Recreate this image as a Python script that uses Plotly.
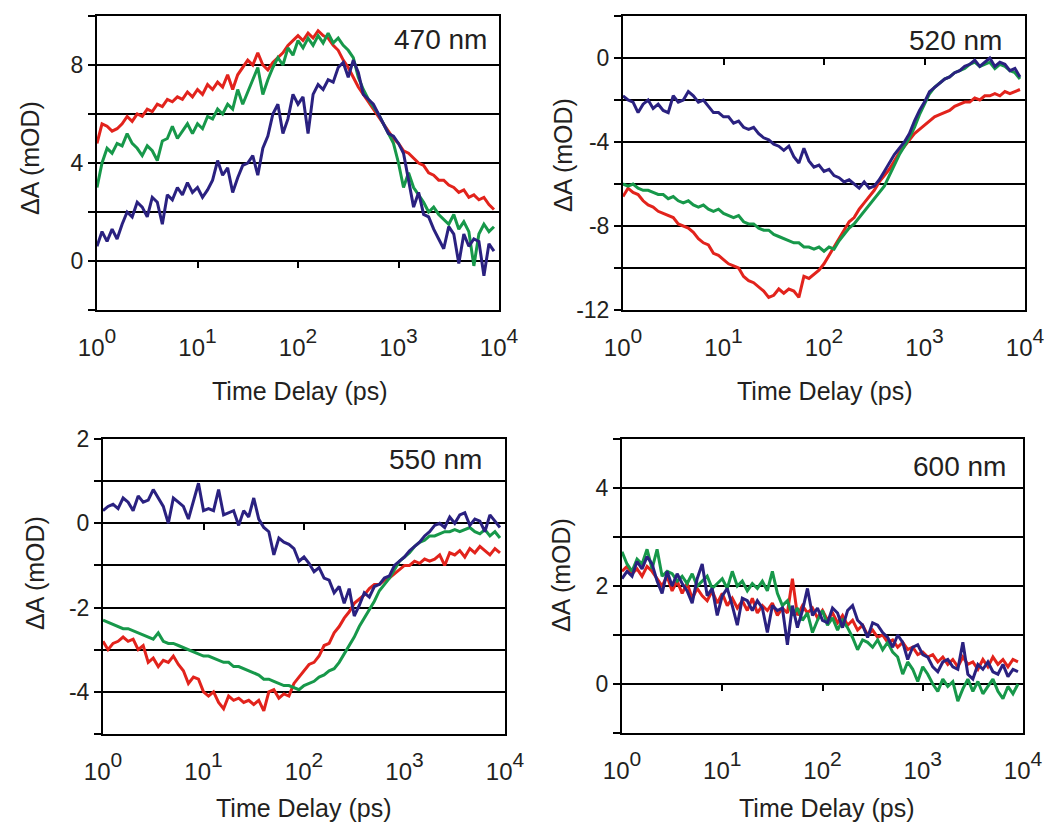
import plotly.graph_objects as go

# Pump-probe time delays (ps), shared by every kinetic trace
times = [1.0, 1.122, 1.259, 1.413, 1.585, 1.778, 1.995, 2.239, 2.512, 2.818,
         3.162, 3.548, 3.981, 4.467, 5.012, 5.623, 6.310, 7.079, 7.943, 8.913,
         10.0, 11.22, 12.59, 14.13, 15.85, 17.78, 19.95, 22.39, 25.12, 28.18,
         31.62, 35.48, 39.81, 44.67, 50.12, 56.23, 63.10, 70.79, 79.43, 89.13,
         100.0, 112.2, 125.9, 141.3, 158.5, 177.8, 199.5, 223.9, 251.2, 281.8,
         316.2, 354.8, 398.1, 446.7, 501.2, 562.3, 631.0, 707.9, 794.3, 891.3,
         1000.0, 1122, 1259, 1413, 1585, 1778, 1995, 2239, 2512, 2818,
         3162, 3548, 3981, 4467, 5012, 5623, 6310, 7079, 7943, 8913]

# 470 nm
red_470 = [4.8, 5.6, 5.5, 5.3, 5.4, 5.6, 5.9, 5.7, 6.0, 5.9,
           6.2, 6.1, 6.4, 6.3, 6.6, 6.5, 6.7, 6.6, 6.9, 6.7,
           7.0, 6.8, 7.2, 7.0, 7.3, 7.1, 7.6, 7.0, 7.6, 7.9,
           8.2, 8.0, 8.5, 8.0, 7.8, 8.1, 8.3, 8.5, 8.8, 9.0,
           9.2, 9.0, 9.3, 9.1, 9.4, 9.2, 9.1, 8.8, 8.6, 8.2,
           7.9, 7.5, 7.1, 6.8, 6.5, 6.2, 5.9, 5.6, 5.3, 5.0,
           4.8, 4.5, 4.4, 4.2, 4.0, 3.9, 3.6, 3.5, 3.3, 3.3,
           3.1, 3.0, 2.8, 2.9, 2.6, 2.7, 2.5, 2.6, 2.3, 2.1]
green_470 = [3.0, 4.0, 4.6, 4.4, 4.8, 4.7, 5.2, 4.8, 4.6, 4.3,
             4.7, 4.5, 4.1, 4.9, 5.0, 5.5, 5.0, 5.3, 5.6, 5.2,
             5.6, 5.4, 5.9, 5.8, 6.2, 6.0, 6.4, 6.2, 7.0, 6.4,
             6.9, 7.4, 7.9, 6.8, 7.4, 7.9, 8.3, 8.0, 8.7, 8.4,
             9.0, 8.7, 9.1, 8.8, 9.2, 8.9, 9.3, 8.9, 9.1, 8.8,
             8.6, 8.3, 7.5, 7.0, 6.6, 6.3, 6.0, 5.6, 5.2, 4.8,
             4.0, 3.0, 3.6, 3.0, 2.7, 2.4, 2.0, 2.2, 1.9, 1.7,
             1.5, 1.9, 1.3, 1.6, 1.2, -0.2, 1.1, 1.5, 1.2, 1.4]
blue_470 = [0.6, 1.2, 0.8, 1.3, 0.9, 1.5, 2.0, 1.8, 2.4, 2.2,
            1.8, 2.6, 2.4, 1.5, 2.7, 2.5, 3.0, 2.7, 3.2, 2.8,
            3.0, 2.6, 2.9, 3.3, 4.1, 3.5, 3.8, 2.8, 3.4, 3.9,
            4.0, 4.3, 3.5, 4.6, 5.1, 6.0, 6.4, 5.2, 5.8, 6.8,
            6.4, 6.7, 5.2, 6.8, 7.2, 7.0, 7.4, 7.3, 7.9, 8.1,
            7.5, 8.2, 7.7, 6.8, 6.6, 6.4, 6.0, 5.6, 5.2, 5.1,
            4.8, 4.4, 3.3, 2.2, 2.8, 1.9, 1.8, 1.3, 0.9, 0.5,
            1.4, 1.1, -0.1, 1.1, 0.6, 0.9, 0.8, -0.6, 0.7, 0.4]

# 520 nm
red_520 = [-6.6, -6.2, -6.4, -6.5, -6.8, -7.0, -7.1, -7.3, -7.4, -7.5,
           -7.6, -7.9, -8.0, -8.1, -8.3, -8.6, -8.8, -8.9, -9.3, -9.4,
           -9.6, -9.8, -9.9, -10.0, -10.4, -10.6, -10.7, -10.9, -11.1, -11.4,
           -11.3, -11.0, -11.2, -11.0, -11.1, -11.4, -10.4, -10.5, -10.3, -10.1,
           -9.8, -9.4, -9.0, -8.6, -8.2, -7.8, -7.6, -7.2, -6.9, -6.6,
           -6.3, -5.9, -5.6, -5.3, -4.9, -4.5, -4.2, -3.9, -3.6, -3.4,
           -3.2, -3.0, -2.8, -2.7, -2.6, -2.5, -2.3, -2.2, -2.1, -2.1,
           -1.9, -2.0, -1.8, -1.8, -1.7, -1.8, -1.6, -1.7, -1.6, -1.5]
green_520 = [-6.0, -6.1, -6.0, -6.2, -6.3, -6.3, -6.4, -6.5, -6.5, -6.7,
             -6.6, -6.8, -6.9, -6.8, -7.0, -7.1, -7.0, -7.2, -7.3, -7.2,
             -7.4, -7.5, -7.6, -7.5, -7.8, -7.9, -7.9, -8.1, -8.2, -8.2,
             -8.4, -8.5, -8.6, -8.7, -8.8, -8.8, -9.0, -9.0, -9.1, -9.0,
             -9.2, -9.0, -9.1, -8.7, -8.4, -8.1, -7.9, -7.6, -7.3, -7.0,
             -6.7, -6.4, -6.1, -5.6, -5.1, -4.6, -4.2, -3.8, -3.3, -2.7,
             -2.2, -1.7, -1.4, -1.2, -1.0, -0.9, -0.7, -0.6, -0.5, -0.3,
             -0.2, -0.4, -0.3, -0.2, -0.5, -0.3, -0.4, -0.6, -0.7, -1.0]
blue_520 = [-1.8, -2.0, -2.1, -2.6, -2.2, -2.0, -2.4, -2.2, -2.5, -2.6,
            -1.8, -2.1, -2.0, -1.6, -1.8, -2.1, -2.0, -2.3, -2.6, -2.6,
            -2.8, -2.8, -3.1, -3.0, -3.3, -3.4, -3.3, -3.6, -3.8, -3.9,
            -4.1, -4.2, -4.4, -4.2, -4.7, -5.0, -4.3, -4.9, -5.2, -5.1,
            -5.4, -5.3, -5.6, -5.7, -5.9, -5.8, -6.0, -6.2, -5.9, -6.2,
            -6.1, -5.8, -5.4, -5.0, -4.6, -4.3, -4.0, -3.6, -3.0, -2.5,
            -2.1, -1.6, -1.4, -1.2, -1.0, -0.9, -0.7, -0.6, -0.4, -0.3,
            -0.1, -0.4, -0.2, 0.0, -0.4, -0.2, -0.3, -0.6, -0.5, -0.9]

# 550 nm
red_550 = [-2.8, -3.0, -2.85, -2.8, -2.7, -2.8, -2.75, -3.0, -2.9, -3.3,
           -3.2, -3.4, -3.25, -3.3, -3.15, -3.35, -3.5, -3.8, -3.65, -3.7,
           -4.0, -4.1, -4.0, -4.25, -4.4, -4.1, -4.2, -4.15, -4.25, -4.2,
           -4.3, -4.2, -4.45, -4.0, -3.95, -4.15, -4.05, -4.1, -3.8, -3.65,
           -3.5, -3.35, -3.3, -3.15, -2.9, -2.85, -2.6, -2.45, -2.25, -2.1,
           -1.9, -1.8, -1.7, -1.55, -1.45, -1.45, -1.35, -1.3, -1.2, -1.1,
           -1.0, -1.0, -0.9, -0.95, -0.85, -0.9, -0.85, -0.75, -1.0, -0.7,
           -0.75, -0.65, -0.8, -0.6, -0.7, -0.55, -0.65, -0.75, -0.6, -0.7]
green_550 = [-2.3, -2.35, -2.4, -2.45, -2.5, -2.5, -2.55, -2.6, -2.65, -2.7,
             -2.75, -2.6, -2.8, -2.85, -2.85, -2.9, -2.95, -3.0, -3.05, -3.1,
             -3.15, -3.15, -3.2, -3.25, -3.3, -3.3, -3.4, -3.4, -3.45, -3.5,
             -3.55, -3.6, -3.7, -3.7, -3.75, -3.8, -3.85, -3.85, -3.9, -3.95,
             -3.85, -3.8, -3.75, -3.65, -3.6, -3.5, -3.45, -3.3, -3.1, -2.9,
             -2.7, -2.45, -2.25, -2.05, -1.85, -1.6, -1.45, -1.3, -1.1, -0.9,
             -0.8, -0.7, -0.55, -0.45, -0.4, -0.3, -0.3, -0.25, -0.2, -0.2,
             -0.15, -0.2, -0.15, -0.1, -0.2, -0.25, -0.15, -0.3, -0.2, -0.35]
blue_550 = [0.3, 0.4, 0.45, 0.35, 0.6, 0.5, 0.3, 0.65, 0.5, 0.55,
            0.8, 0.6, 0.4, 0.0, 0.6, 0.5, 0.4, 0.1, 0.5, 0.95,
            0.3, 0.35, 0.3, 0.8, 0.2, 0.25, 0.3, -0.05, 0.3, 0.15,
            0.6, 0.1, -0.1, -0.2, -0.75, -0.35, -0.45, -0.5, -0.6, -0.9,
            -0.8, -0.95, -1.15, -1.05, -1.3, -1.35, -1.65, -1.5, -1.9, -1.55,
            -2.2, -1.95, -1.65, -1.75, -1.5, -1.45, -1.3, -1.25, -1.0, -0.9,
            -0.8, -0.65, -0.55, -0.45, -0.3, -0.2, -0.05, 0.0, -0.1, 0.15,
            0.0, 0.2, 0.25, -0.05, 0.1, 0.05, -0.2, 0.2, 0.05, -0.1]

# 600 nm
red_600 = [2.3, 2.4, 2.25, 2.35, 2.2, 2.4, 2.3, 2.15, 2.0, 2.2,
           1.9, 2.1, 1.85, 2.05, 1.75, 1.95, 1.8, 1.7, 1.9, 1.65,
           1.85, 1.6, 1.75, 1.55, 1.7, 1.5, 1.75, 1.45, 1.6, 1.5,
           1.65, 1.4, 1.55, 1.45, 2.15, 1.4, 1.6, 1.45, 1.55, 1.35,
           1.5, 1.3, 1.45, 1.25, 1.4, 1.2, 1.3, 1.1, 1.2, 1.0,
           1.1, 0.95, 1.0, 0.85, 0.9, 0.75, 0.85, 0.7, 0.75, 0.6,
           0.65, 0.55, 0.6, 0.45, 0.55, 0.4, 0.5, 0.35, 0.55, 0.4,
           0.45, 0.3, 0.5, 0.35, 0.55, 0.4, 0.5, 0.35, 0.5, 0.45]
green_600 = [2.7, 2.45, 2.3, 2.55, 2.45, 2.75, 2.35, 2.75, 2.2, 2.3,
             2.25, 2.1, 2.2, 2.05, 2.25, 2.0, 2.1, 2.2, 1.95, 2.05,
             2.15, 1.95, 2.3, 2.0, 2.1, 1.9, 2.05, 1.95, 2.1, 1.9,
             2.3, 1.85, 1.6, 1.7, 1.4, 1.55, 1.3, 1.45, 1.05, 1.3,
             1.5, 1.2, 1.35, 1.1, 1.3, 1.15, 0.95, 0.7, 0.9, 0.85,
             0.75, 0.9, 0.7, 0.85, 0.65, 0.55, 0.2, 0.45, 0.3, 0.05,
             0.35, 0.2, 0.0, -0.15, 0.1, -0.05, 0.05, -0.35, -0.1, 0.1,
             -0.15, 0.05, -0.2, -0.05, 0.1, -0.15, -0.3, -0.05, -0.2, 0.0]
blue_600 = [2.15, 2.3, 2.2, 2.5, 2.35, 2.6, 2.45, 2.1, 1.85, 2.3,
            2.0, 2.25, 2.05, 1.9, 1.65, 2.15, 2.45, 1.8, 1.95, 1.4,
            1.8, 1.95, 1.6, 1.2, 1.75, 1.7, 1.5, 1.7, 1.55, 1.05,
            1.6, 1.5, 1.55, 0.8, 1.6, 1.15, 1.5, 1.95, 1.4, 1.55,
            1.3, 1.25, 1.55, 1.45, 1.15, 1.5, 1.6, 1.3, 1.2, 0.95,
            1.25, 1.2, 1.05, 0.95, 0.75, 1.0, 0.85, 0.5, 0.75, 0.8,
            0.6, 0.55, 0.35, 0.25, 0.45, 0.5, 0.35, 0.3, 0.85, 0.2,
            0.1, 0.4, 0.3, 0.45, 0.25, 0.2, 0.4, 0.15, 0.3, 0.25]

x_tick_vals = [1, 10, 100, 1000, 10000]
x_tick_exps = ["0", "1", "2", "3", "4"]
zero_line_ticks = [10, 100, 1000]

# labelled ΔA ticks per panel
y_labels_470 = [0, 4, 8]
y_labels_520 = [-12, -8, -4, 0]
y_labels_550 = [-4, -2, 0, 2]
y_labels_600 = [0, 2, 4]

RED = "#e2231c"
GREEN = "#17984a"
BLUE = "#2a2180"
INK = "#231f20"
FONT = "Liberation Sans, Arial, sans-serif"
W, H = 1062, 832

# "10" at 24 px, exponent at 70 % of the 30 px base (about 21 px)
x_tick_text = [f"<span style='font-size:24px'>10</span><sup>{e}</sup>"
               for e in x_tick_exps]

panels = [
    dict(name="470 nm", traces=(red_470, green_470, blue_470),
         yrange=(-2, 10), ylabels=y_labels_470, grid_step=2,
         box=(97, 499, 16, 310), ytitle_xy=(30, 158), xtitle_xy=(300, 391),
         tag_xy=(489, 39)),
    dict(name="520 nm", traces=(red_520, green_520, blue_520),
         yrange=(-12, 2), ylabels=y_labels_520, grid_step=2,
         box=(623, 1025, 16, 310), ytitle_xy=(563, 155), xtitle_xy=(825, 391),
         tag_xy=(1004, 41)),
    dict(name="550 nm", traces=(red_550, green_550, blue_550),
         yrange=(-5, 2), ylabels=y_labels_550, grid_step=1,
         box=(103, 505, 439, 734), ytitle_xy=(35, 573), xtitle_xy=(304, 808),
         tag_xy=(484, 459)),
    dict(name="600 nm", traces=(red_600, green_600, blue_600),
         yrange=(-1, 5), ylabels=y_labels_600, grid_step=1,
         box=(622, 1023, 439, 733), ytitle_xy=(561, 575), xtitle_xy=(827, 808),
         tag_xy=(1008, 467)),
]

fig = go.Figure()
layout = dict(
    template="none",
    width=W, height=H, autosize=False, margin=dict(l=0, r=0, t=0, b=0, pad=0),
    paper_bgcolor="white", plot_bgcolor="white", showlegend=False,
    font=dict(family=FONT, color=INK),
)
annotations = []

for k, p in enumerate(panels):
    n = k + 1
    xa = "x" if n == 1 else f"x{n}"
    ya = "y" if n == 1 else f"y{n}"
    xz = f"x{n + 4}"
    x0, x1, y0, y1 = p["box"]
    xdom = [x0 / W, x1 / W]
    ydom = [1 - y1 / H, 1 - y0 / H]
    lo, hi = p["yrange"]

    for vals, col in zip(p["traces"], (RED, GREEN, BLUE)):
        fig.add_trace(go.Scatter(x=times, y=vals, xaxis=xa, yaxis=ya,
                                 mode="lines", line=dict(color=col, width=3),
                                 hoverinfo="skip"))
    # empty trace so the zero-crossing time axis gets drawn
    fig.add_trace(go.Scatter(x=[], y=[], xaxis=xz, yaxis=ya, mode="lines",
                             hoverinfo="skip"))

    layout["xaxis" if n == 1 else f"xaxis{n}"] = dict(
        type="log", range=[0, 4], domain=xdom, anchor=ya, automargin=False,
        showgrid=False, zeroline=False, ticks="",
        tickvals=x_tick_vals, ticktext=x_tick_text,
        tickfont=dict(size=30, family=FONT, color=INK),
        ticklabelstandoff=8,
        showline=True, mirror=True, linecolor="black", linewidth=2,
    )
    layout["yaxis" if n == 1 else f"yaxis{n}"] = dict(
        range=[lo, hi], domain=ydom, anchor=xa, automargin=False,
        tickvals=p["ylabels"], ticktext=[str(v) for v in p["ylabels"]],
        showgrid=True, gridcolor="black", gridwidth=2, zeroline=False,
        ticks="outside", ticklen=7, tickwidth=2, tickcolor="black",
        tickfont=dict(size=23, family=FONT, color=INK),
        minor=dict(tick0=0, dtick=p["grid_step"], ticks="outside", ticklen=7,
                   tickwidth=2, tickcolor="black", showgrid=True,
                   gridcolor="black", gridwidth=2),
        showline=True, mirror=True, linecolor="black", linewidth=2,
    )

    # Time axis crossing at zero: short tick marks hang below the 0 line
    cross = ydom[0] + (0 - lo) / (hi - lo) * (ydom[1] - ydom[0])
    layout[f"xaxis{n + 4}"] = dict(
        type="log", range=[0, 4], overlaying=xa, anchor="free", position=cross,
        side="bottom", automargin=False, showgrid=False, zeroline=False,
        showline=False, ticks="outside", ticklen=6, tickwidth=2,
        tickcolor="black", tickvals=zero_line_ticks, showticklabels=False,
    )

    tx, ty = p["ytitle_xy"]
    annotations.append(dict(text="ΔA (mOD)", xref="paper", yref="paper",
                            x=tx / W, y=1 - ty / H, xanchor="center", yanchor="middle",
                            textangle=-90, showarrow=False,
                            font=dict(size=25, family=FONT, color=INK)))
    tx, ty = p["xtitle_xy"]
    annotations.append(dict(text="Time Delay (ps)", xref="paper", yref="paper",
                            x=tx / W, y=1 - ty / H, xanchor="center", yanchor="middle",
                            showarrow=False, font=dict(size=25, family=FONT, color=INK)))
    tx, ty = p["tag_xy"]
    annotations.append(dict(text=p["name"], xref="paper", yref="paper",
                            x=tx / W, y=1 - ty / H, xanchor="right", yanchor="middle",
                            showarrow=False, font=dict(size=28, family=FONT, color=INK)))

layout["annotations"] = annotations
fig.update_layout(**layout)
fig.write_html("out.html")
